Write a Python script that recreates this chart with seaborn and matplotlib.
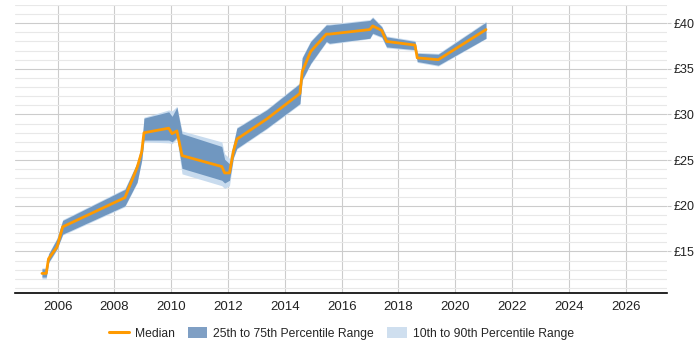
import matplotlib
matplotlib.use("Agg")
import matplotlib.pyplot as plt
import matplotlib.ticker as mticker
from matplotlib.patches import Patch
from matplotlib.lines import Line2D
import pandas as pd
import seaborn as sns

# time points (decimal years) and percentile values (GBP per hour)
years = [2005.45, 2005.6, 2005.68, 2005.98, 2006.18, 2008.37, 2008.8, 2008.96,
         2009.04, 2009.91, 2010.03, 2010.2, 2010.38, 2011.78, 2011.88, 2012.05,
         2012.19, 2012.31, 2013.36, 2014.53, 2014.61, 2014.91, 2015.46, 2015.57,
         2016.99, 2017.09, 2017.41, 2017.58, 2018.58, 2018.66, 2019.4, 2021.08]
median = [12.6, 12.6, 14.2, 15.5, 17.7, 20.9, 24.2, 25.9,
          28.0, 28.5, 27.9, 28.2, 25.5, 24.3, 23.6, 23.6,
          26.0, 27.3, 29.5, 32.3, 34.7, 36.9, 38.8, 38.8,
          39.3, 39.7, 39.2, 38.0, 37.6, 36.2, 36.0, 39.3]
p25 = [12.2, 12.2, 13.8, 15.3, 16.9, 20.0, 22.6, 25.0,
       27.2, 27.2, 27.0, 27.5, 24.1, 22.8, 22.5, 22.8,
       25.3, 26.3, 28.5, 31.2, 33.8, 35.6, 38.0, 37.8,
       38.35, 38.9, 38.5, 37.4, 37.1, 35.8, 35.4, 38.35]
p75 = [13.1, 13.1, 14.7, 16.4, 18.4, 21.8, 24.7, 26.6,
       29.6, 30.3, 29.8, 30.8, 27.9, 26.5, 25.1, 24.6,
       26.8, 28.5, 30.5, 33.4, 36.2, 38.0, 39.8, 39.8,
       40.3, 40.6, 39.6, 38.5, 38.0, 36.7, 36.6, 40.1]
p10 = [12.0, 12.0, 13.7, 15.2, 16.8, 19.9, 22.5, 24.9,
       27.0, 26.9, 26.8, 27.3, 23.5, 22.2, 21.9, 22.2,
       25.2, 26.2, 28.4, 31.1, 33.7, 35.5, 37.9, 37.7,
       38.3, 38.8, 38.4, 37.3, 37.0, 35.7, 35.3, 38.3]
p90 = [13.2, 13.2, 14.8, 16.5, 18.5, 21.9, 24.8, 26.7,
       29.7, 30.5, 30.4, 30.9, 28.2, 27.0, 25.7, 25.2,
       26.9, 28.6, 30.6, 33.5, 36.3, 38.1, 39.9, 39.9,
       40.4, 40.7, 39.7, 38.6, 38.1, 36.8, 36.7, 40.2]

df = pd.DataFrame({"year": years, "median": median, "p10": p10, "p25": p25,
                   "p75": p75, "p90": p90})

ORANGE = "#ff9a00"
BAND = "#7097c0"
LIGHT = "#c8dbee"

sns.set_style("white")
plt.rcParams["font.family"] = ["Liberation Sans", "DejaVu Sans"]

fig = plt.figure(figsize=(7, 3.5), dpi=100)
ax = fig.add_axes([0.0214, 0.164, 0.9314, 0.822])

ax.fill_between(df["year"], df["p10"], df["p90"], color=LIGHT, lw=0, zorder=2)
ax.fill_between(df["year"], df["p25"], df["p75"], color=BAND, lw=0, zorder=3)
sns.lineplot(data=df, x="year", y="median", color=ORANGE, lw=2, ax=ax, zorder=4)

ax.set_xlim(2004.5, 2027.45)
ax.set_ylim(10.5, 42.0)
ax.xaxis.set_major_locator(mticker.MultipleLocator(2))
ax.yaxis.set_major_locator(mticker.MultipleLocator(5))
ax.yaxis.set_minor_locator(mticker.MultipleLocator(1))
ax.yaxis.set_major_formatter(mticker.FuncFormatter(lambda v, p: f"£{v:.0f}"))
ax.yaxis.tick_right()

ax.grid(axis="x", which="major", color="#cccccc", lw=0.8, zorder=0)
ax.grid(axis="y", which="major", color="#cccccc", lw=0.8, zorder=0)
ax.grid(axis="y", which="minor", color="#e8e8e8", lw=0.8, zorder=0)
ax.set_axisbelow(True)

for s in ["top", "left", "right"]:
    ax.spines[s].set_visible(False)
ax.spines["bottom"].set_color("#000000")
ax.spines["bottom"].set_linewidth(1.2)

ax.tick_params(axis="x", length=0, labelsize=9.5, colors="#222222", pad=6)
ax.tick_params(axis="y", which="major", length=3, color="#cccccc", labelsize=9,
               labelcolor="#222222", pad=2)
ax.tick_params(axis="y", which="minor", length=0)
ax.set_xlabel("")
ax.set_ylabel("")

handles = [
    Line2D([0], [0], color=ORANGE, lw=2.2),
    Patch(facecolor="#7f9fc4", edgecolor="none"),
    Patch(facecolor="#cfdfef", edgecolor="none"),
]
labels = ["Median", "25th to 75th Percentile Range", "10th to 90th Percentile Range"]
fig.legend(handles, labels, loc="center", bbox_to_anchor=(0.488, 0.048), ncol=3,
           frameon=False, fontsize=8.7, handlelength=1.6, handleheight=1.1,
           columnspacing=1.1, handletextpad=0.5)

fig.savefig("out.png", dpi=100)
plt.close(fig)
